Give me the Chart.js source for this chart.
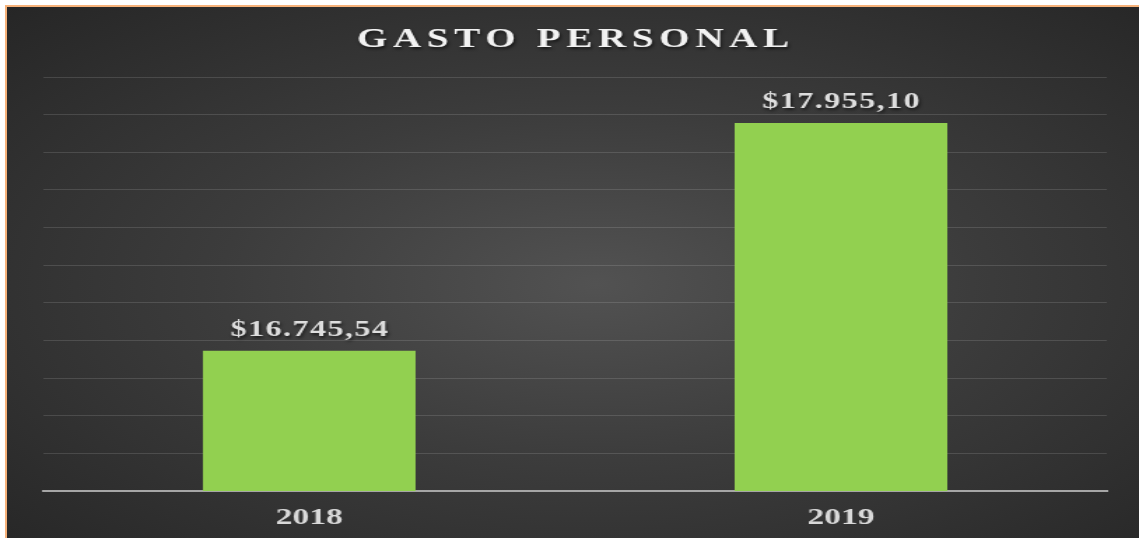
<!DOCTYPE html>
<html>
<head>
<meta charset="utf-8">
<script src="https://cdn.jsdelivr.net/npm/chart.js@4"></script>
<style>
  html, body { margin: 0; padding: 0; background: #ffffff; }
  #frame {
    position: absolute; left: 5px; top: 5px;
    width: 1134px; height: 533px;
    border-top: 2px solid #f7b27a; border-left: 2px solid #f7b27a;
    background: radial-gradient(ellipse at 52% 52%, #525252 0%, #3c3c3c 45%, #262626 100%);
  }
</style>
</head>
<body>
<div id="frame"><canvas id="chart" width="809" height="531" style="width:1132px;height:531px;display:block"></canvas></div>
<script>
const years = ["2018", "2019"];
const gasto = [16745.54, 17955.10];
const yMin = 16000;
const yMax = 18200;
const yStep = 200;

const titleText = "GASTO PERSONAL";
const green = "#92d050";

// $16.745,54 style
function money(v) {
  const [ent, dec] = v.toFixed(2).split(".");
  return "$" + ent.replace(/\B(?=(\d{3})+(?!\d))/g, ".") + "," + dec;
}

const textPlugin = {
  id: "texts",
  afterDraw(chart) {
    const ctx = chart.ctx;
    ctx.save();
    ctx.shadowColor = "rgba(0,0,0,0.6)";
    ctx.shadowOffsetX = 1;
    ctx.shadowOffsetY = 2;
    ctx.shadowBlur = 3;

    // title
    ctx.font = "bold 28px 'Liberation Serif'";
    ctx.letterSpacing = "4px";
    ctx.fillStyle = "#f2f2f2";
    ctx.textAlign = "center";
    ctx.textBaseline = "middle";
    ctx.fillText(titleText, chart.width / 2 + 2, 33);

    // value labels above the bars
    ctx.font = "bold 23px 'Liberation Serif'";
    ctx.letterSpacing = "1px";
    ctx.fillStyle = "#dedede";
    const meta = chart.getDatasetMeta(0);
    meta.data.forEach((bar, i) => {
      ctx.fillText(money(gasto[i]), bar.x + 0.5, bar.y - 21);
    });
    ctx.restore();
  }
};

new Chart(document.getElementById("chart"), {
  type: "bar",
  data: {
    labels: years,
    datasets: [{
      data: gasto,
      backgroundColor: green,
      borderWidth: 0,
      barPercentage: 0.4,
      categoryPercentage: 1
    }]
  },
  options: {
    responsive: false,
    animation: false,
    layout: { padding: { top: 70, left: 26, right: 23, bottom: -7 } },
    plugins: {
      legend: { display: false },
      title: { display: false },
      tooltip: { enabled: false }
    },
    scales: {
      x: {
        grid: { display: false, drawTicks: false },
        border: { display: true, color: "#a6a6a6", width: 2 },
        ticks: {
          color: "#d9d9d9",
          padding: 15,
          font: { family: "'Liberation Serif'", size: 24, weight: "bold", lineHeight: 1 }
        }
      },
      y: {
        min: yMin,
        max: yMax,
        grid: { color: "rgba(255,255,255,0.13)", lineWidth: 1, drawTicks: false },
        border: { display: false },
        ticks: { display: false, stepSize: yStep }
      }
    }
  },
  plugins: [textPlugin]
});
</script>
</body>
</html>
